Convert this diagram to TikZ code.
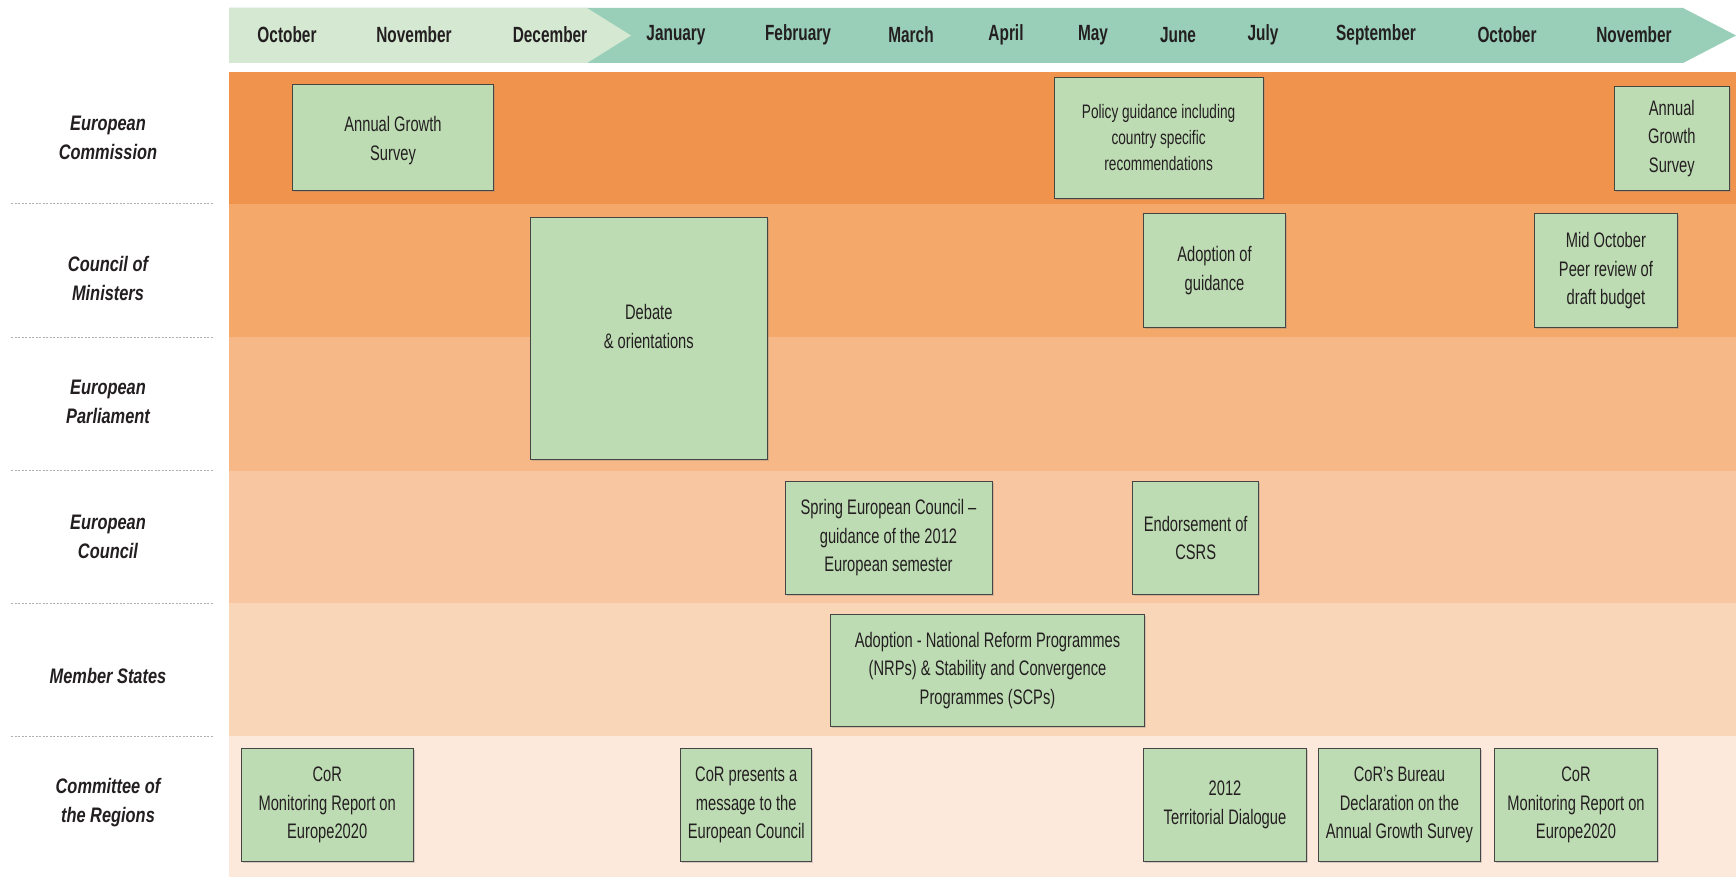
\documentclass[tikz,border=0pt]{standalone}
\usepackage{fontspec}
\setmainfont{Liberation Sans}[FakeStretch=0.7]
\newfontfamily\labfont{Liberation Sans}[FakeStretch=0.78]
\usetikzlibrary{shadows}
\definecolor{hdrlight}{HTML}{D5E8D2}
\definecolor{hdrdark}{HTML}{99CFB9}
\definecolor{rowA}{HTML}{F0944D}
\definecolor{rowB}{HTML}{F4A86A}
\definecolor{rowC}{HTML}{F6B886}
\definecolor{rowD}{HTML}{F8C7A1}
\definecolor{rowE}{HTML}{FAD6B8}
\definecolor{rowF}{HTML}{FDE9DC}
\definecolor{boxfill}{HTML}{BEDCB4}
\definecolor{boxline}{HTML}{454545}
\definecolor{txt}{HTML}{231F20}
\definecolor{sepline}{HTML}{B0B0B0}
\tikzset{
  evbox/.style={draw=boxline, line width=1pt, fill=boxfill, align=center, text=txt,
    inner sep=2pt, font=\fontsize{21}{28.5}\selectfont,
    drop shadow={shadow xshift=1.5pt, shadow yshift=-1.5pt, opacity=0.3}},
  month/.style={text=txt, font=\fontsize{22}{26}\selectfont\bfseries, anchor=center},
  rowlabel/.style={text=txt, align=center, font=\labfont\fontsize{21}{29}\selectfont\bfseries\itshape},
  sep/.style={draw=sepline, line width=0.8pt, dash pattern=on 2pt off 1.5pt}
}
\begin{document}
\begin{tikzpicture}[x=1pt,y=-1pt]
\useasboundingbox (0,0) rectangle (1736,877);
\fill[white] (0,0) rectangle (1736,877);
% header
\fill[hdrdark] (229,8) -- (1683,8) -- (1736,35.5) -- (1683,63) -- (229,63) -- cycle;
\fill[hdrlight] (229,8) -- (587,8) -- (631,35.5) -- (587,63) -- (229,63) -- cycle;
% rows
\fill[rowA] (229,72) rectangle (1736,203.7);
\fill[rowB] (229,203.7) rectangle (1736,337);
\fill[rowC] (229,337) rectangle (1736,470.5);
\fill[rowD] (229,470.5) rectangle (1736,603.4);
\fill[rowE] (229,603.4) rectangle (1736,736.2);
\fill[rowF] (229,736.2) rectangle (1736,877);
% separators
\coordinate (s1a) at (11,203.7); \coordinate (s1b) at (213,203.7);
\coordinate (s2a) at (11,337); \coordinate (s2b) at (213,337);
\coordinate (s3a) at (11,470.5); \coordinate (s3b) at (213,470.5);
\coordinate (s4a) at (11,603.4); \coordinate (s4b) at (213,603.4);
\coordinate (s5a) at (11,736.2); \coordinate (s5b) at (213,736.2);
\draw[sep] (s1a) -- (s1b);
\draw[sep] (s2a) -- (s2b);
\draw[sep] (s3a) -- (s3b);
\draw[sep] (s4a) -- (s4b);
\draw[sep] (s5a) -- (s5b);
% months
\node[month] (m1) at (287,35) {October};
\node[month] (m2) at (414,35) {November};
\node[month] (m3) at (550,35) {December};
\node[month] (m4) at (676,35) {January};
\node[month] (m5) at (798,35) {February};
\node[month] (m6) at (911,35) {March};
\node[month] (m7) at (1006,35) {April};
\node[month] (m8) at (1093,35) {May};
\node[month] (m9) at (1178,35) {June};
\node[month] (m10) at (1263,35) {July};
\node[month] (m11) at (1376,35) {September};
\node[month] (m12) at (1507,35) {October};
\node[month] (m13) at (1634,35) {November};
% row labels
\node[rowlabel] (l1) at (108,138) {European\\Commission};
\node[rowlabel] (l2) at (108,278) {Council of\\Ministers};
\node[rowlabel] (l3) at (108,402) {European\\Parliament};
\node[rowlabel] (l4) at (108,537) {European\\Council};
\node[rowlabel] (l5) at (108,676) {Member States};
\node[rowlabel] (l6) at (108,803) {Committee of\\the Regions};
% boxes
\node[evbox, minimum width=201.5, minimum height=106.3] (ags1) at (393,137.3) {\raisebox{-8pt}[0pt][0pt]{\begin{tabular}{@{}c@{}}Annual Growth\\Survey\end{tabular}}};
\node[evbox, minimum width=209, minimum height=120.7, font=\fontsize{19.5}{26}\selectfont] (policy) at (1158.6,137.9) {Policy guidance including\\country specific\\recommendations};
\node[evbox, minimum width=115, minimum height=104] (ags2) at (1671.8,138.4) {Annual\\Growth\\Survey};
\node[evbox, minimum width=237, minimum height=242.5] (debate) at (648.8,338.3) {\raisebox{5pt}[0pt][0pt]{\begin{tabular}{@{}c@{}}Debate\\\& orientations\end{tabular}}};
\node[evbox, minimum width=141.7, minimum height=114] (adopt) at (1214.5,270.7) {Adoption of\\guidance};
\node[evbox, minimum width=143, minimum height=114] (midoct) at (1605.9,270.7) {Mid October\\Peer review of\\draft budget};
\node[evbox, minimum width=207, minimum height=113] (spring) at (888.5,538) {Spring European Council --\\guidance of the 2012\\European semester};
\node[evbox, minimum width=126, minimum height=113] (endorse) at (1195.7,538) {Endorsement of\\CSRS};
\node[evbox, minimum width=314.4, minimum height=112] (nrp) at (987.5,670.4) {Adoption - National Reform Programmes\\(NRPs) \& Stability and Convergence\\Programmes (SCPs)};
\node[evbox, minimum width=171.7, minimum height=113] (cor1) at (327.2,804.9) {CoR\\Monitoring Report on\\Europe2020};
\node[evbox, minimum width=130.6, minimum height=113] (corpres) at (746.2,804.9) {CoR presents a\\message to the\\European Council};
\node[evbox, minimum width=162.8, minimum height=113] (terr) at (1225,804.9) {2012\\Territorial Dialogue};
\node[evbox, minimum width=161.6, minimum height=113] (bureau) at (1399.4,804.9) {CoR’s Bureau\\Declaration on the\\Annual Growth Survey};
\node[evbox, minimum width=162.7, minimum height=113] (cor2) at (1576,804.9) {CoR\\Monitoring Report on\\Europe2020};
\end{tikzpicture}
\end{document}
